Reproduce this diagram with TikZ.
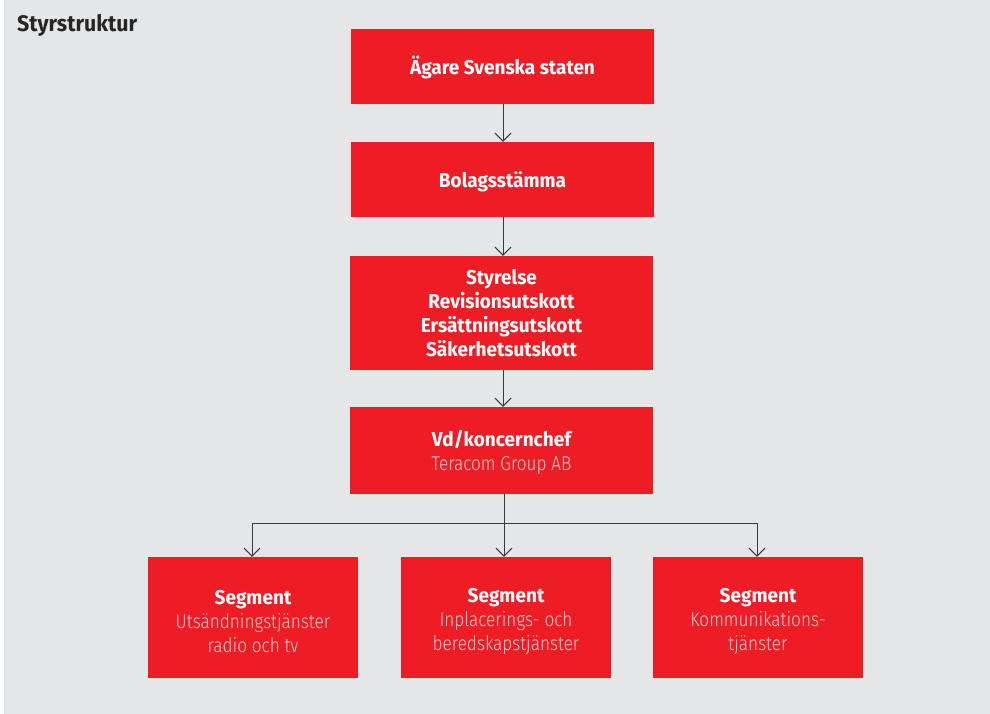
\documentclass[tikz,border=0pt]{standalone}
\usepackage{fontspec}
\setmainfont{Fira Sans}[BoldFeatures={FakeStretch=0.95}]
\newfontfamily\lightfont{Fira Sans Light}[FakeStretch=0.86]
\usetikzlibrary{arrows.meta}
\definecolor{bgrey}{HTML}{E5E6E8}
\definecolor{tred}{HTML}{EE1D25}
\definecolor{lpink}{HTML}{FBD0D2}
\definecolor{lgrey}{HTML}{3A3A3A}
\tikzset{
  box/.style={fill=tred, inner sep=0pt},
  bigbox/.style={box, minimum width=303pt},
  segbox/.style={box, minimum width=210pt, minimum height=121pt},
  txt/.style={text=white, align=center, inner sep=0pt,
    font=\fontsize{20}{24}\selectfont\bfseries},
  conn/.style={draw=lgrey, line width=1pt, -{Straight Barb[length=8pt,width=16pt,line width=1pt]}},
  plain/.style={draw=lgrey, line width=1pt},
}
\newcommand{\lt}[1]{{\lightfont\mdseries\color{lpink}#1}}
\begin{document}
\begin{tikzpicture}[x=1pt,y=-1pt]
\useasboundingbox (0,0) rectangle (990,714);
\fill[white] (0,0) rectangle (990,714);
\fill[bgrey] (4,0) rectangle (990,714);
\node[anchor=base west, inner sep=0pt, font=\fontsize{22.5}{24}\selectfont\bfseries, text=black!85] (title) at (17,32) {Styrstruktur};
\node[bigbox, minimum height=75pt] (owner) at (502.5,66.5) {};
\node[bigbox, minimum height=75pt] (agm) at (502.5,179.5) {};
\node[bigbox, minimum height=114pt] (board) at (501.5,313) {};
\node[bigbox, minimum height=87pt] (ceo) at (501.5,450.5) {};
\node[segbox] (s1) at (253,617.5) {};
\node[segbox] (s2) at (506,617.5) {};
\node[segbox] (s3) at (758,617.5) {};
\node[txt] (townerr) at ([yshift=-0.5pt]owner.center) {Ägare Svenska staten};
\node[txt] (tagm) at ([yshift=-2.5pt]agm.center) {Bolagsstämma};
\node[txt] (tboard) at (board.center) {Styrelse\\Revisionsutskott\\Ersättningsutskott\\Säkerhetsutskott};
\node[txt] (tceo) at ([yshift=-2pt]ceo.center) {Vd/koncernchef\\\lt{Teracom Group AB}};
\node[txt] (ts1) at ([yshift=-4pt]s1.center) {Segment\\\lt{Utsändningstjänster}\\\lt{radio och tv}};
\node[txt] (ts2) at ([yshift=-4pt]s2.center) {Segment\\\lt{Inplacerings- och}\\\lt{beredskapstjänster}};
\node[txt] (ts3) at ([yshift=-4pt]s3.center) {Segment\\\lt{Kommunikations-}\\\lt{tjänster}};
\coordinate (j) at (504,523);
\coordinate (jl) at (252,523);
\coordinate (jr) at (757,523);
\draw[conn] (owner.south -| 503,0) -- (agm.north -| 503,0);
\draw[conn] (agm.south -| 503,0) -- (board.north -| 503,0);
\draw[conn] (board.south -| 503,0) -- (ceo.north -| 503,0);
\draw[plain] (ceo.south -| j) -- (j);
\draw[plain] (jl) -- (jr);
\draw[conn] (jl) -- (s1.north -| jl);
\draw[conn] (j) -- (s2.north -| j);
\draw[conn] (jr) -- (s3.north -| jr);
\end{tikzpicture}
\end{document}
